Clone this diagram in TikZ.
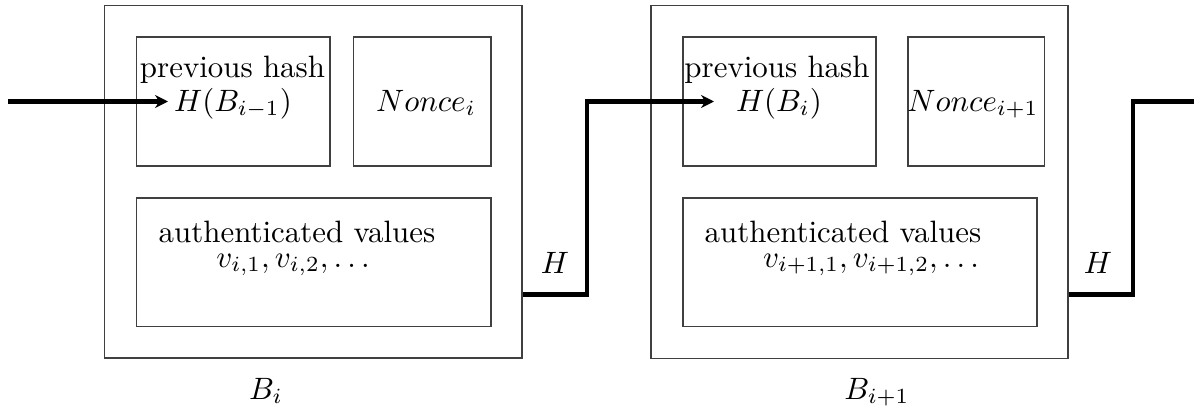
\documentclass[tikz,border=0pt]{standalone}
\usetikzlibrary{arrows.meta,fit}
\begin{document}
\begin{tikzpicture}[x=0.3236pt,y=-0.3236pt,
  boxthin/.style={draw=black!75,line width=0.45pt,inner sep=0pt},
  lbl/.style={inner sep=0pt,anchor=base},
  chain/.style={line width=1.35pt,line join=miter},
  chainarrow/.style={chain,-{Stealth[length=4.2pt,width=4.2pt]}}]
\useasboundingbox (0,0) rectangle (1194,407);
% block 1
\coordinate (o1a) at (104.5,5.5); \coordinate (o1b) at (522,358);
\node[boxthin,fit=(o1a)(o1b)] (outer1) {};
\coordinate (p1a) at (136.5,37); \coordinate (p1b) at (330,166);
\node[boxthin,fit=(p1a)(p1b)] (prev1) {};
\coordinate (n1a) at (353.5,37); \coordinate (n1b) at (491,166);
\node[boxthin,fit=(n1a)(n1b)] (nonce1) {};
\coordinate (a1a) at (136.5,198); \coordinate (a1b) at (491,326.5);
\node[boxthin,fit=(a1a)(a1b)] (auth1) {};
\node[lbl] (ph1) at (232.5,77) {previous hash};
\node[lbl] (hb1) at (233,111) {$H(B_{i-1})$};
\node[lbl] (nt1) at (426,111) {$Nonce_i$};
\node[lbl] (av1) at (297,243) {authenticated values};
\node[lbl] (vv1) at (293,267) {$v_{i,1},v_{i,2},\ldots$};
\node[lbl] (bl1) at (266,399) {$B_i$};
\node[lbl] (hl1) at (555,273) {$H$};
% block 2
\coordinate (o2a) at (651,5.5); \coordinate (o2b) at (1068,358.5);
\node[boxthin,fit=(o2a)(o2b)] (outer2) {};
\coordinate (p2a) at (683,37); \coordinate (p2b) at (876,166);
\node[boxthin,fit=(p2a)(p2b)] (prev2) {};
\coordinate (n2a) at (908,37); \coordinate (n2b) at (1044.5,166);
\node[boxthin,fit=(n2a)(n2b)] (nonce2) {};
\coordinate (a2a) at (683,198); \coordinate (a2b) at (1037,326.5);
\node[boxthin,fit=(a2a)(a2b)] (auth2) {};
\node[lbl] (ph2) at (777,77) {previous hash};
\node[lbl] (hb2) at (779,111) {$H(B_i)$};
\node[lbl] (nt2) at (973,111) {$Nonce_{i+1}$};
\node[lbl] (av2) at (843,243) {authenticated values};
\node[lbl] (vv2) at (871,267) {$v_{i+1,1},v_{i+1,2},\ldots$};
\node[lbl] (bl2) at (877,399) {$B_{i+1}$};
\node[lbl] (hl2) at (1098,273) {$H$};
% connectors
\coordinate (in0) at (8,101.5);
\coordinate (tip1) at (168,101.5);
\draw[chainarrow] (in0) -- (tip1);
\coordinate (c1a) at (outer1.east |- 0,294.5);
\coordinate (c1b) at (587,294.5);
\coordinate (c1c) at (587,101.5);
\coordinate (tip2) at (714,101.5);
\draw[chainarrow] (c1a) -- (c1b) -- (c1c) -- (tip2);
\coordinate (c2a) at (outer2.east |- 0,294.5);
\coordinate (c2b) at (1133,294.5);
\coordinate (c2c) at (1133,101.5);
\coordinate (out2) at (1194,101.5);
\draw[chain] (c2a) -- (c2b) -- (c2c) -- (out2);
\end{tikzpicture}
\end{document}
